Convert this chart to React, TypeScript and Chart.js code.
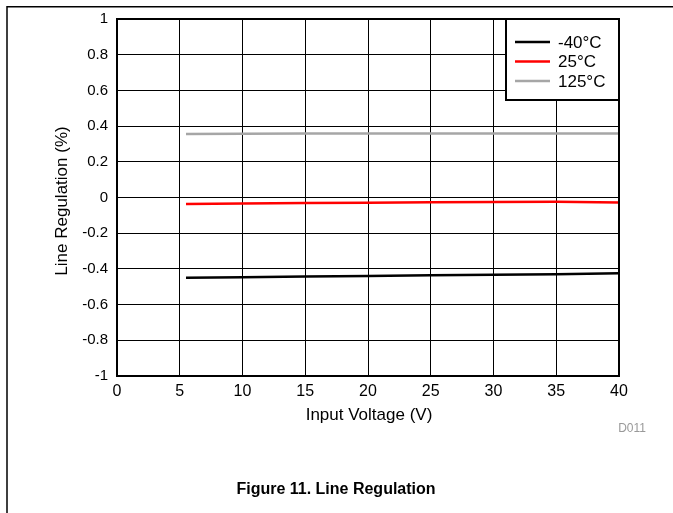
import React, { useEffect, useRef } from "react";
import { Chart, registerables } from "chart.js";

Chart.register(...registerables);

const voltages = [5.5, 10, 15, 20, 25, 30, 35, 40];
const seriesNames = ["-40°C", "25°C", "125°C"];
const seriesColors = ["#000000", "#FF0000", "#A6A6A6"];
const regMinus40 = [-0.45, -0.447, -0.443, -0.44, -0.436, -0.433, -0.43, -0.425];
const reg25 = [-0.036, -0.034, -0.031, -0.029, -0.027, -0.025, -0.024, -0.028];
const reg125 = [0.356, 0.357, 0.358, 0.358, 0.358, 0.358, 0.359, 0.359];
const seriesValues = [regMinus40, reg25, reg125];

const xTitle = "Input Voltage (V)";
const yTitle = "Line Regulation (%)";
const figureTitle = "Figure 11. Line Regulation";
const codeLabel = "D011";

const FONT = "Arial, 'Liberation Sans', sans-serif";

export default function App() {
  const ref = useRef<HTMLCanvasElement>(null);
  useEffect(() => {
    if (!ref.current) return;
    const decor = {
      id: "decor",
      afterDraw(chart: any) {
        const ctx = chart.ctx;
        const a = chart.chartArea;
        ctx.save();
        // page frame
        ctx.strokeStyle = "#000";
        ctx.lineWidth = 1.5;
        ctx.beginPath();
        ctx.moveTo(673, 6.75);
        ctx.lineTo(7, 6.75);
        ctx.lineTo(7, 513);
        ctx.stroke();
        // legend box
        const lx = 506, ly = a.top, lw = a.right - 506, lh = 81;
        ctx.fillStyle = "#fff";
        ctx.fillRect(lx, ly, lw, lh);
        ctx.lineWidth = 2;
        ctx.strokeRect(lx, ly, lw, lh);
        ctx.font = "17px " + FONT;
        ctx.textBaseline = "middle";
        ctx.textAlign = "left";
        seriesNames.forEach((n, i) => {
          const yy = ly + 23 + i * 19.5;
          ctx.strokeStyle = seriesColors[i];
          ctx.lineWidth = 2.5;
          ctx.beginPath();
          ctx.moveTo(515, yy);
          ctx.lineTo(550, yy);
          ctx.stroke();
          ctx.fillStyle = "#000";
          ctx.fillText(n, 558, yy + 1);
        });
        // plot border
        ctx.strokeStyle = "#000";
        ctx.lineWidth = 2;
        ctx.strokeRect(a.left, a.top, a.right - a.left, a.bottom - a.top);
        // axis titles
        ctx.fillStyle = "#000";
        ctx.font = "17px " + FONT;
        ctx.textAlign = "center";
        ctx.textBaseline = "middle";
        ctx.fillText(xTitle, 369, 415);
        ctx.save();
        ctx.translate(62, 201);
        ctx.rotate(-Math.PI / 2);
        ctx.fillText(yTitle, 0, 0);
        ctx.restore();
        ctx.fillStyle = "#999";
        ctx.font = "12px " + FONT;
        ctx.textAlign = "right";
        ctx.fillText(codeLabel, 646, 429);
        ctx.fillStyle = "#000";
        ctx.font = "bold 16px " + FONT;
        ctx.textAlign = "center";
        ctx.fillText(figureTitle, 336, 490);
        ctx.restore();
      },
    };
    const chart = new Chart(ref.current, {
      type: "line",
      data: {
        datasets: seriesNames.map((name, i) => ({
          label: name,
          data: voltages.map((v, j) => ({ x: v, y: seriesValues[i][j] })),
          borderColor: seriesColors[i],
          backgroundColor: seriesColors[i],
          borderWidth: 2.5,
          pointRadius: 0,
          tension: 0,
        })),
      },
      options: {
        responsive: false,
        animation: false,
        layout: { padding: { left: 0, top: 19, right: 54, bottom: 0 } },
        plugins: { legend: { display: false }, tooltip: { enabled: false } },
        scales: {
          x: {
            type: "linear",
            min: 0,
            max: 40,
            afterFit: (s: any) => { s.height = 137; },
            ticks: { stepSize: 5, color: "#000", font: { family: FONT, size: 16 }, padding: 6, maxRotation: 0 },
            grid: { color: "#000", lineWidth: 1, drawTicks: false },
            border: { display: false },
          },
          y: {
            min: -1,
            max: 1,
            afterFit: (s: any) => { s.width = 117; },
            ticks: {
              stepSize: 0.2,
              color: "#000",
              font: { family: FONT, size: 15 },
              padding: 9,
              callback: (v: any) => String(Number(Number(v).toFixed(1))),
            },
            grid: { color: "#000", lineWidth: 1, drawTicks: false },
            border: { display: false },
          },
        },
      },
      plugins: [decor],
    });
    return () => chart.destroy();
  }, []);
  return (
    <div style={{ position: "fixed", left: 0, top: 0, width: 673, height: 513, background: "#fff" }}>
      <canvas ref={ref} width={673} height={513} style={{ display: "block" }} />
    </div>
  );
}
